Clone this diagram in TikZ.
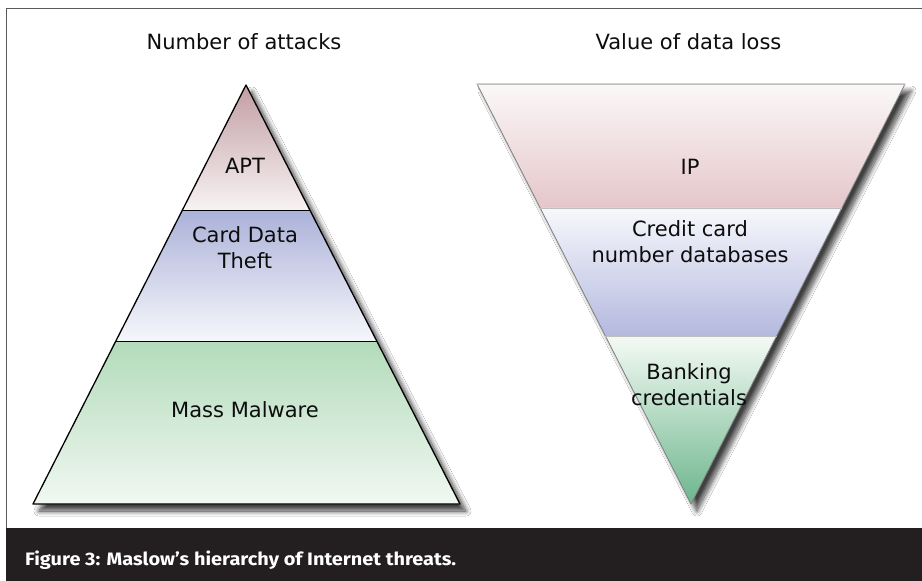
\documentclass[tikz,border=0pt]{standalone}
\usepackage{fontspec}
\setmainfont{DejaVu Sans}
\newfontfamily\capfont{Fira Sans}
\usepackage{graphicx}
\usetikzlibrary{calc,shadows.blur}
\definecolor{capbg}{HTML}{231F20}
\definecolor{framec}{HTML}{5A5A5A}
\definecolor{aptTop}{HTML}{C29EA4}
\definecolor{aptBot}{HTML}{F8F3F3}
\definecolor{cardTop}{HTML}{ACB2D9}
\definecolor{cardBot}{HTML}{F6F7FB}
\definecolor{massTop}{HTML}{B2DBBA}
\definecolor{massBot}{HTML}{F1F8F2}
\definecolor{ipTop}{HTML}{FBF8F8}
\definecolor{ipBot}{HTML}{E5C6CA}
\definecolor{ccTop}{HTML}{F7F8FC}
\definecolor{ccBot}{HTML}{B4B9DF}
\definecolor{bkTop}{HTML}{F4FAF5}
\definecolor{bkBot}{HTML}{6CB68C}
\begin{document}
\begin{tikzpicture}[x=1pt,y=-1pt,
  lbl/.style={font=\fontsize{21}{26}\selectfont, text=black!95, inner sep=0pt, align=center, anchor=base},
  pyrline/.style={draw=black, line width=1.3pt, line join=round},
  invline/.style={draw=black!50, line width=0.8pt, line join=round},
  shad/.style={fill=white, blur shadow={shadow xshift=6pt, shadow yshift=-7pt, shadow blur radius=5pt, shadow blur steps=12, shadow opacity=75}}]
\useasboundingbox (0,0) rectangle (922,581);
\fill[white] (0,0) rectangle (922,581);
% frame and caption band
\draw[framec, line width=1.5pt] (922,8.5) -- (6.5,8.5) -- (6.5,528);
\fill[capbg] (5.75,528) rectangle (922,581);
\node[anchor=base west, inner sep=0pt, text=white, font=\capfont\bfseries\fontsize{18}{20}\selectfont] (cap) at (25,565.5)
  {\resizebox{431pt}{\height}{Figure 3: Maslow’s hierarchy of Internet threats.}};
% titles
\node[lbl] (t1) at (244,49) {Number of attacks};
\node[lbl] (t2) at (688.5,49) {Value of data loss};
% left pyramid
\coordinate (A) at (246,85);
\coordinate (BL) at (33,504);
\coordinate (BR) at (460,504);
\coordinate (L1) at ($(A)!0.3007!(BL)$);
\coordinate (R1) at ($(A)!0.3007!(BR)$);
\coordinate (L2) at ($(A)!0.611!(BL)$);
\coordinate (R2) at ($(A)!0.611!(BR)$);
\path[shad] (A) -- (BR) -- (BL) -- cycle;
\shade[top color=aptTop, bottom color=aptBot] (A) -- (R1) -- (L1) -- cycle;
\shade[top color=cardTop, bottom color=cardBot] (L1) -- (R1) -- (R2) -- (L2) -- cycle;
\shade[top color=massTop, bottom color=massBot] (L2) -- (R2) -- (BR) -- (BL) -- cycle;
\path[pyrline] (A) -- (BR) -- (BL) -- cycle;
\path[pyrline, line width=1pt] (L1) -- (R1) (L2) -- (R2);
\node[lbl] (apt) at (245,173.5) {APT};
\node[lbl] (card) at (245,268) {Card Data\\Theft};
\node[lbl] (mass) at (245,417) {Mass Malware};
% right inverted pyramid
\coordinate (TL) at (477,84);
\coordinate (TR) at (905,84);
\coordinate (V) at (691,504);
\coordinate (P1) at ($(TL)!0.2952!(V)$);
\coordinate (Q1) at ($(TR)!0.2952!(V)$);
\coordinate (P2) at ($(TL)!0.6!(V)$);
\coordinate (Q2) at ($(TR)!0.6!(V)$);
\path[shad] (TL) -- (TR) -- (V) -- cycle;
\shade[top color=ipTop, bottom color=ipBot] (TL) -- (TR) -- (Q1) -- (P1) -- cycle;
\shade[top color=ccTop, bottom color=ccBot] (P1) -- (Q1) -- (Q2) -- (P2) -- cycle;
\shade[top color=bkTop, bottom color=bkBot] (P2) -- (Q2) -- (V) -- cycle;
\path[invline] (TL) -- (TR) -- (V) -- cycle;
\path[invline, draw=black!25] (TL) -- (TR) (P1) -- (Q1) (P2) -- (Q2);
\node[lbl] (ip) at (690,174.5) {IP};
\node[lbl] (cc) at (690,262) {Credit card\\number databases};
\node[lbl] (bk) at (689,405) {Banking\\credentials};
\end{tikzpicture}
\end{document}
